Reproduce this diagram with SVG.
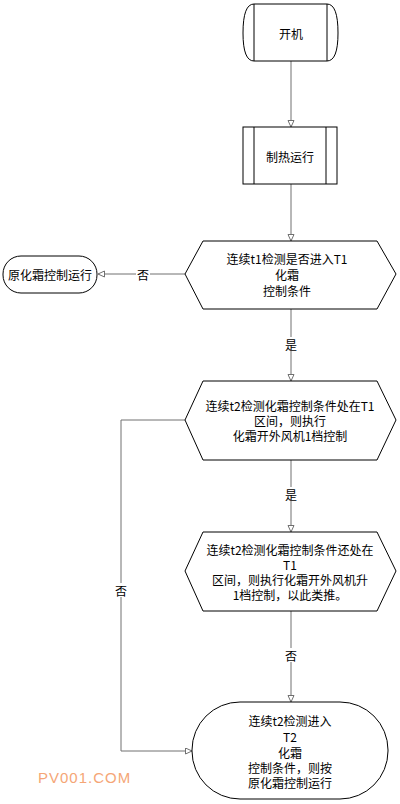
<svg xmlns="http://www.w3.org/2000/svg" width="400" height="804" viewBox="0 0 400 804">
<style>
.s{fill:#fff;stroke:#000;stroke-width:1}
.c{fill:none;stroke:#707070;stroke-width:1}
.t{font-family:"Noto Sans CJK SC","Liberation Sans",sans-serif;font-size:12px;fill:#000;text-anchor:middle;dominant-baseline:central}
.lb{fill:#fff;stroke:none}
</style>
<defs>
<marker id="a" markerWidth="10" markerHeight="10" refX="7" refY="3.5" orient="auto" markerUnits="userSpaceOnUse">
<path d="M0.5,0.5 L7,3.5 L0.5,6.5 Z" fill="#fff" stroke="#707070" stroke-width="1"/>
</marker>
</defs>
<rect width="400" height="804" fill="#fff"/>
<g id="connectors">
<line class="c" x1="291" y1="61" x2="291" y2="127" marker-end="url(#a)"/>
<line class="c" x1="291" y1="184" x2="291" y2="241" marker-end="url(#a)"/>
<line class="c" x1="185" y1="274" x2="98" y2="274" marker-end="url(#a)"/>
<rect class="lb" x="136" y="267" width="14" height="14"/>
<text class="t" x="143" y="274">否</text>
<line class="c" x1="291" y1="309" x2="291" y2="381" marker-end="url(#a)"/>
<rect class="lb" x="284" y="337" width="14" height="14"/>
<text class="t" x="291" y="344">是</text>
<line class="c" x1="291" y1="460" x2="291" y2="532" marker-end="url(#a)"/>
<rect class="lb" x="284" y="487" width="14" height="14"/>
<text class="t" x="291" y="494">是</text>
<line class="c" x1="291" y1="611" x2="291" y2="702" marker-end="url(#a)"/>
<rect class="lb" x="284" y="648" width="14" height="14"/>
<text class="t" x="291" y="655">否</text>
<polyline class="c" points="185,420 121,420 121,751 192,751" marker-end="url(#a)"/>
<rect class="lb" x="114" y="583" width="14" height="14"/>
<text class="t" x="121" y="590">否</text>
</g>
<g id="start">
<path class="s" d="M254,4 L327,4 Q338,4 338,33 Q338,61 327,61 L254,61 Q243,61 243,33 Q243,4 254,4 Z"/>
<line class="s" x1="254" y1="4" x2="254" y2="61"/>
<line class="s" x1="327" y1="4" x2="327" y2="61"/>
<text class="t" x="291" y="33">开机</text>
</g>
<g id="heat">
<rect class="s" x="243" y="127" width="94" height="57"/>
<line class="s" x1="254" y1="127" x2="254" y2="184"/>
<line class="s" x1="326" y1="127" x2="326" y2="184"/>
<text class="t" x="290" y="156">制热运行</text>
</g>
<g id="orig">
<rect class="s" x="3" y="256" width="94" height="37" rx="18" ry="18"/>
<text class="t" x="50" y="274">原化霜控制运行</text>
</g>
<g id="d1">
<polygon class="s" points="203,241 377,241 396,274 377,309 203,309 185,274"/>
<text class="t" x="287" y="258">连续t1检测是否进入T1</text>
<text class="t" x="287" y="274">化霜</text>
<text class="t" x="287" y="290">控制条件</text>
</g>
<g id="d2">
<polygon class="s" points="203,381 377,381 396,420 377,460 203,460 185,420"/>
<text class="t" x="290" y="405">连续t2检测化霜控制条件处在T1</text>
<text class="t" x="290" y="420">区间，则执行</text>
<text class="t" x="290" y="435">化霜开外风机1档控制</text>
</g>
<g id="d3">
<polygon class="s" points="203,532 377,532 396,571 377,611 203,611 185,571"/>
<text class="t" x="290" y="549">连续t2检测化霜控制条件还处在</text>
<text class="t" x="290" y="564">T1</text>
<text class="t" x="290" y="579">区间，则执行化霜开外风机升</text>
<text class="t" x="290" y="594">1档控制，以此类推。</text>
</g>
<g id="end">
<rect class="s" x="192" y="702" width="196" height="97" rx="48" ry="48"/>
<text class="t" x="290" y="720">连续t2检测进入</text>
<text class="t" x="290" y="736">T2</text>
<text class="t" x="290" y="752">化霜</text>
<text class="t" x="290" y="767">控制条件，则按</text>
<text class="t" x="290" y="782">原化霜控制运行</text>
</g>
<text x="38" y="783" font-family="Liberation Sans,sans-serif" font-size="15" fill="#f5a676" letter-spacing="1">PV001.COM</text>
</svg>
